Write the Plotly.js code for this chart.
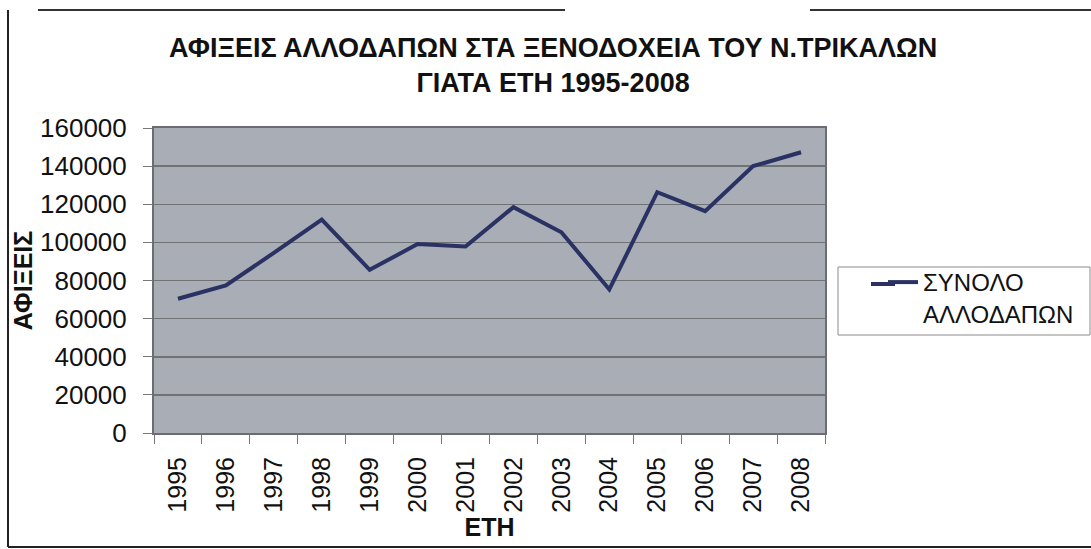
<!DOCTYPE html>
<html>
<head>
<meta charset="utf-8">
<script src="https://cdn.plot.ly/plotly-3.0.1.min.js"></script>
<style>
  html, body { margin: 0; padding: 0; background: #ffffff; }
  #chart { width: 1091px; height: 549px; }
</style>
</head>
<body>
<div id="chart"></div>
<script>
// ---- Data ----
const years = ['1995','1996','1997','1998','1999','2000','2001','2002','2003','2004','2005','2006','2007','2008'];
const arrivals = [70400, 77400, 94500, 112000, 85600, 99100, 97800, 118500, 105300, 75300, 126300, 116400, 140000, 147300];
const seriesName = 'ΣΥΝΟΛΟ<br>ΑΛΛΟΔΑΠΩΝ';
const yTicks = [0, 20000, 40000, 60000, 80000, 100000, 120000, 140000, 160000];
const titleText = 'ΑΦΙΞΕΙΣ ΑΛΛΟΔΑΠΩΝ ΣΤΑ ΞΕΝΟΔΟΧΕΙΑ ΤΟΥ Ν.ΤΡΙΚΑΛΩΝ<br>ΓΙΑΤΑ ΕΤΗ 1995-2008';
const xTitle = 'ΕΤΗ';
const yTitle = 'ΑΦΙΞΕΙΣ';

const FONT = 'Liberation Sans, Arial, sans-serif';
const LINE_COLOR = '#2a3163';

const trace = {
  type: 'scatter',
  mode: 'lines',
  x: years,
  y: arrivals,
  name: seriesName,
  line: { color: LINE_COLOR, width: 4 },
  showlegend: true
};

// plot area: x 154..825, y 128..433 (px)
const L = 154, R = 825, T = 128, B = 433, W = 1091, H = 549;
const px = v => (v - L) / (R - L);
const py = v => (B - v) / (B - T);

const layout = {
  width: W,
  height: H,
  margin: { l: L, r: W - R, t: T, b: H - B, pad: 0 },
  paper_bgcolor: '#ffffff',
  plot_bgcolor: '#a9adb5',
  font: { family: FONT, color: '#111111' },
  title: {
    text: titleText,
    font: { family: FONT, size: 27, color: '#111111', weight: 'bold' },
    x: 0.507, xref: 'container', xanchor: 'center',
    y: 1 - 57 / 549, yref: 'container', yanchor: 'top'
  },
  xaxis: {
    type: 'category',
    tickmode: 'array',
    tickvals: years,
    ticktext: years,
    tickangle: -90,
    tickfont: { family: FONT, size: 25, color: '#111111' },
    ticks: 'outside',
    ticklen: 9,
    tickcolor: '#777777',
    tickson: 'boundaries',
    ticklabelstandoff: 12,
    showgrid: false,
    showline: true,
    linecolor: '#6b6d72',
    linewidth: 2,
    mirror: true,
    range: [-0.5, years.length - 0.5],
    title: { text: xTitle, font: { family: FONT, size: 25, color: '#111111', weight: 'bold' }, standoff: 0 },
    fixedrange: true
  },
  yaxis: {
    range: [0, 160000],
    tickmode: 'array',
    tickvals: yTicks,
    ticktext: yTicks.map(String),
    tickfont: { family: FONT, size: 26, color: '#111111' },
    ticks: 'outside',
    ticklen: 9,
    tickcolor: '#777777',
    ticklabelstandoff: 11,
    showgrid: true,
    gridcolor: '#707276',
    gridwidth: 1.5,
    zeroline: false,
    showline: true,
    linecolor: '#6b6d72',
    linewidth: 2,
    mirror: true,
    title: { text: yTitle, font: { family: FONT, size: 25, color: '#111111', weight: 'bold' }, standoff: 0 },
    fixedrange: true
  },
  legend: {
    x: px(883), y: py(260),
    xanchor: 'left', yanchor: 'top',
    bgcolor: 'rgba(0,0,0,0)',
    borderwidth: 0,
    font: { family: FONT, size: 24, color: '#111111' },
    valign: 'top',
    tracegroupgap: 0
  },
  shapes: [
    // legend frame
    { type: 'rect', xref: 'paper', yref: 'paper', x0: px(838), x1: px(1090), y0: py(335), y1: py(267), fillcolor: 'rgba(0,0,0,0)', line: { color: '#8a8a8a', width: 1 }, layer: 'below' },
    // extension of the legend sample line (the reference sample is longer than Plotly's)
    { type: 'line', xref: 'paper', yref: 'paper', x0: px(871), x1: px(895), y0: py(284), y1: py(284), line: { color: LINE_COLOR, width: 4 } },
    // outer chart frame
    { type: 'line', xref: 'paper', yref: 'paper', x0: px(8), x1: px(8), y0: py(10), y1: py(547), line: { color: '#222222', width: 2 } },
    { type: 'line', xref: 'paper', yref: 'paper', x0: px(8), x1: px(1091), y0: py(547), y1: py(547), line: { color: '#222222', width: 2 } },
    { type: 'line', xref: 'paper', yref: 'paper', x0: px(38), x1: px(565), y0: py(10), y1: py(10), line: { color: '#333333', width: 2 } },
    { type: 'line', xref: 'paper', yref: 'paper', x0: px(810), x1: px(1091), y0: py(10), y1: py(10), line: { color: '#333333', width: 2 } }
  ],
  showlegend: true
};

Plotly.newPlot('chart', [trace], layout, { staticPlot: true, displayModeBar: false });
</script>
</body>
</html>
